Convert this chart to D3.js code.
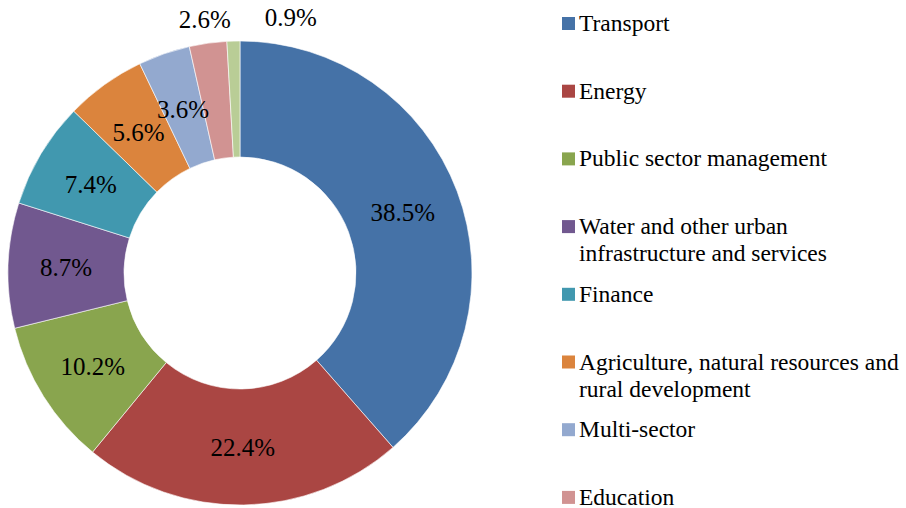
<!DOCTYPE html>
<html>
<head>
<meta charset="utf-8">
<script src="https://cdn.jsdelivr.net/npm/d3@7"></script>
</head>
<body style="margin:0">
<div id="chart"></div>
<script>
// Datos del grafico
var categories = [
    "Transport",
    "Energy",
    "Public sector management",
    "Water and other urban infrastructure and services",
    "Finance",
    "Agriculture, natural resources and rural development",
    "Multi-sector",
    "Education",
    "Health"
];
var shares = [38.5, 22.4, 10.2, 8.7, 7.4, 5.6, 3.6, 2.6, 0.9];
var legendLines = [
    ["Transport"],
    ["Energy"],
    ["Public sector management"],
    ["Water and other urban", "infrastructure and services"],
    ["Finance"],
    ["Agriculture, natural resources and", "rural development"],
    ["Multi-sector"],
    ["Education"],
    ["Health"]
];
var colors = ["#4572A7", "#AA4643", "#89A54E", "#71588F", "#4198AF",
              "#DB843D", "#93A9CF", "#D19392", "#B9CD96"];

var width = 906;
var height = 508;
var cx = 240, cy = 273;
var radius = 232;
var fontFamily = "Liberation Serif";

var data = categories.map(function(c, i) {
    return { category: c, value: shares[i], lines: legendLines[i] };
});

var color = d3.scaleOrdinal().domain(categories).range(colors);

var svg = d3.select("#chart")
    .append("svg")
    .attr("width", width)
    .attr("height", height)
    .style("display", "block");

var pie = d3.pie()
    .sort(null)
    .value(function(d) { return d.value; });

var data_ready = pie(data);

var arcGenerator = d3.arc()
    .innerRadius(radius / 2)
    .outerRadius(radius);

var outerArc = d3.arc()
    .innerRadius(radius + 24)
    .outerRadius(radius + 24);

svg.selectAll("path")
    .data(data_ready)
    .enter()
    .append("path")
    .attr("transform", "translate(" + cx + "," + cy + ")")
    .attr("d", arcGenerator)
    .attr("fill", function(d) { return color(d.data.category); })
    .attr("stroke", "#fff")
    .attr("stroke-width", 0.6);

// Etiquetas: dentro del anillo, o fuera para los sectores chicos
svg.selectAll("text.pct")
    .data(data_ready)
    .enter()
    .append("text")
    .attr("class", "pct")
    .attr("x", function(d, i) {
        if (d.data.value < 3) {
            var dx = (i === data_ready.length - 1) ? 58 : 0; // evitar solape
            return cx + outerArc.centroid(d)[0] + dx;
        }
        return cx + arcGenerator.centroid(d)[0];
    })
    .attr("y", function(d) {
        var p = d.data.value < 3 ? outerArc.centroid(d) : arcGenerator.centroid(d);
        return cy + p[1] + 9;
    })
    .attr("text-anchor", "middle")
    .style("font-family", fontFamily)
    .style("font-size", "25px")
    .text(function(d) { return d.data.value.toFixed(1) + "%"; });

// Leyenda
var legendY = d3.scaleLinear().domain([0, 1]).range([17, 84.7]);

svg.selectAll("rect")
    .data(data)
    .enter()
    .append("rect")
    .attr("x", 562)
    .attr("y", function(d, i) { return legendY(i); })
    .attr("width", 13)
    .attr("height", 13)
    .style("fill", function(d) { return color(d.category); });

var rows = [];
data.forEach(function(d, i) {
    d.lines.forEach(function(line, j) {
        rows.push({ text: line, y: legendY(i) + 14 + j * 27 });
    });
});

svg.selectAll("text.key")
    .data(rows)
    .enter()
    .append("text")
    .attr("class", "key")
    .attr("x", 579)
    .attr("y", function(d) { return d.y; })
    .style("font-family", fontFamily)
    .style("font-size", "23.5px")
    .text(function(d) { return d.text; });
</script>
</body>
</html>
